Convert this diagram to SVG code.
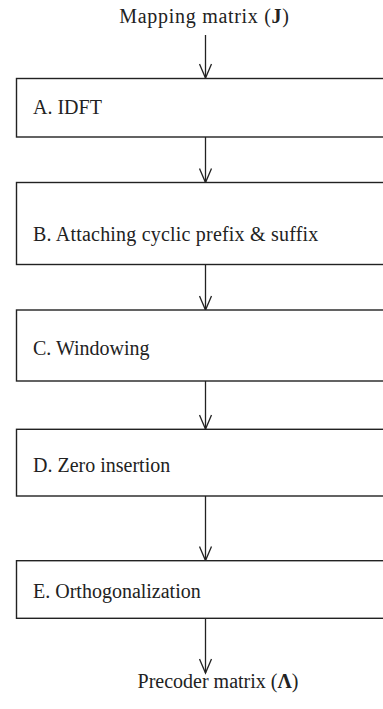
<svg xmlns="http://www.w3.org/2000/svg" width="383" height="709" viewBox="0 0 383 709">
<defs>
<marker id="arr" markerWidth="18" markerHeight="14" refX="15" refY="7" orient="auto" markerUnits="userSpaceOnUse" viewBox="0 0 18 14">
<path d="M1,1 L15,7 L1,13" fill="none" stroke="#222" stroke-width="1.3"/>
</marker>
</defs>
<style>
.box{fill:#fff;stroke:#222;stroke-width:1.4}
.t{font-family:"Liberation Serif","Times New Roman",serif;font-size:20px;fill:#222}
.c{stroke:#222;stroke-width:1.3;fill:none}
</style>
<rect width="383" height="709" fill="#fff"/>
<g id="connectors">
<line class="c" x1="205.5" y1="35" x2="205.5" y2="78" marker-end="url(#arr)"/>
<line class="c" x1="205.5" y1="137" x2="205.5" y2="182.5" marker-end="url(#arr)"/>
<line class="c" x1="205.5" y1="264.5" x2="205.5" y2="310" marker-end="url(#arr)"/>
<line class="c" x1="205.5" y1="381" x2="205.5" y2="429" marker-end="url(#arr)"/>
<line class="c" x1="205.5" y1="496" x2="205.5" y2="560.5" marker-end="url(#arr)"/>
<line class="c" x1="205.5" y1="618.5" x2="205.5" y2="673" marker-end="url(#arr)"/>
</g>
<g id="input"><text class="t" x="204.5" y="23.3" text-anchor="middle" letter-spacing="0.7">Mapping matrix (<tspan font-weight="bold">J</tspan>)</text></g>
<g id="nodeA"><rect class="box" x="16.5" y="78.5" width="400" height="58.5"/><text class="t" x="33" y="114.3">A. IDFT</text></g>
<g id="nodeB"><rect class="box" x="16.5" y="182.5" width="400" height="82"/><text class="t" x="33" y="240.5" letter-spacing="0.2">B. Attaching cyclic prefix &amp; suffix</text></g>
<g id="nodeC"><rect class="box" x="16.5" y="310" width="400" height="71"/><text class="t" x="33" y="355">C. Windowing</text></g>
<g id="nodeD"><rect class="box" x="16.5" y="429.3" width="400" height="66.7"/><text class="t" x="33" y="471.7">D. Zero insertion</text></g>
<g id="nodeE"><rect class="box" x="16.5" y="560.7" width="400" height="57.6"/><text class="t" x="33" y="598.3">E. Orthogonalization</text></g>
<g id="output"><text class="t" x="218" y="688" text-anchor="middle" font-size="17.5">Precoder matrix (<tspan font-weight="bold">Λ</tspan>)</text></g>
</svg>
